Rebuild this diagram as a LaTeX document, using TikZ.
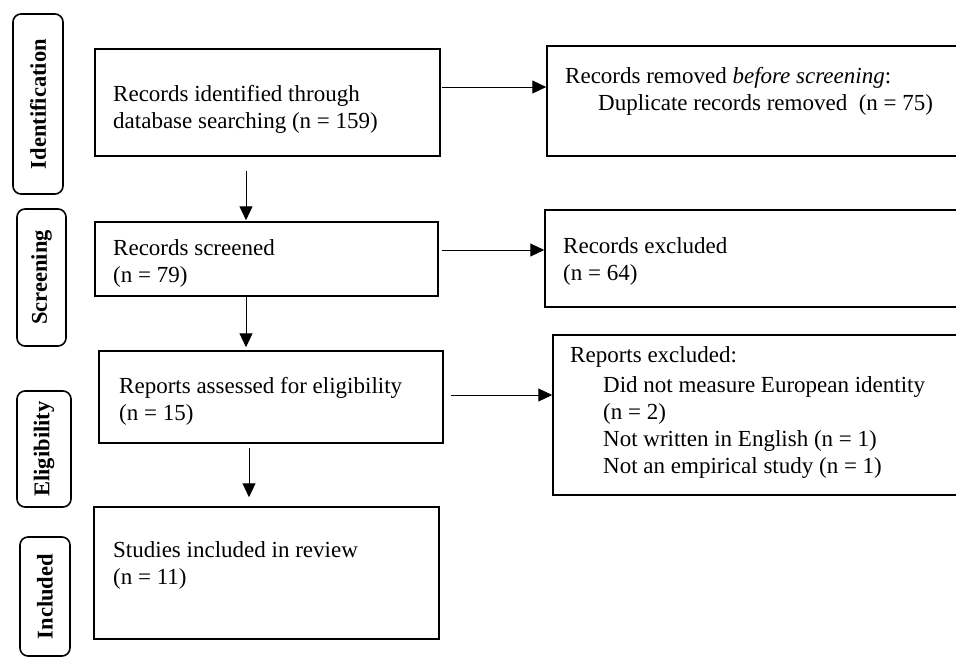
\documentclass[tikz,border=0pt]{standalone}
\usepackage{fontspec}
\setmainfont{Liberation Serif}
\usetikzlibrary{arrows.meta}
\newcommand\mystrut{\rule{0pt}{18pt}}
\begin{document}
\begin{tikzpicture}[x=1pt,y=-1pt,
  phase/.style={draw, line width=1.6pt, rounded corners=8pt, rotate=90, inner sep=0pt,
    font=\bfseries\fontsize{22.5}{26}\selectfont},
  box/.style={draw, line width=1.5pt, inner sep=0pt},
  txt/.style={inner sep=0pt, anchor=north west, align=left, font=\fontsize{23}{27}\selectfont},
  arr/.style={-{Triangle[length=14pt,width=13pt]}, line width=1pt}]
\clip (0,0) rectangle (956,657);
\fill[white] (0,0) rectangle (956,657);

% phase labels
\node[phase, minimum width=180pt, minimum height=50pt] (pid) at (38,104) {Identification};
\node[phase, minimum width=137pt, minimum height=49pt] (psc) at (41.5,277.5) {Screening};
\node[phase, minimum width=116pt, minimum height=54pt] (pel) at (44,449) {Eligibility};
\node[phase, minimum width=119pt, minimum height=50pt] (pin) at (45,596.5) {Included};

% boxes
\node[box, minimum width=345pt, minimum height=107pt] (b1) at (267.5,102.5) {};
\node[box, minimum width=413pt, minimum height=110pt] (rem) at (753.5,101) {};
\node[box, minimum width=343pt, minimum height=74pt] (b2) at (266.5,259) {};
\node[box, minimum width=415pt, minimum height=97pt] (exc) at (752.5,258.5) {};
\node[box, minimum width=344pt, minimum height=92pt] (b3) at (271,397) {};
\node[box, minimum width=407pt, minimum height=160pt] (rep) at (756.5,415) {};
\node[box, minimum width=345pt, minimum height=132pt] (b4) at (266.5,573) {};

% texts
\node[txt] (t1) at (113,83) {\mystrut Records identified through\\database searching (n = 159)};
\node[txt] (trem) at (565,65) {\mystrut Records removed \textit{before screening}:\\\hspace*{33pt}Duplicate records removed\ \ (n = 75)};
\node[txt] (t2) at (113,237) {\mystrut Records screened\\(n = 79)};
\node[txt] (texc) at (563,235) {\mystrut Records excluded\\(n = 64)};
\node[txt] (t3) at (119,375) {\mystrut Reports assessed for eligibility\\(n = 15)};
\node[txt] (trep) at (570,344) {\mystrut Reports excluded:\\[3pt]\hspace*{33pt}Did not measure European identity\\\hspace*{33pt}(n = 2)\\\hspace*{33pt}Not written in English (n = 1)\\\hspace*{33pt}Not an empirical study (n = 1)};
\node[txt] (t4) at (113,539) {\mystrut Studies included in review\\(n = 11)};

% connectors
\coordinate (vx1) at (246,0);
\coordinate (vx2) at (249,0);
\draw[arr, shorten <=1pt] ([yshift=15.5pt]b1.east) -- ([yshift=15.5pt]b1.east -| rem.west);
\draw[arr, shorten <=14pt, shorten >=1pt] (b1.south -| vx1) -- (b2.north -| vx1);
\draw[arr, shorten <=3pt] ([yshift=9pt]b2.east) -- ([yshift=9pt]b2.east -| exc.west);
\draw[arr, shorten >=3pt] (b2.south -| vx1) -- (b3.north -| vx1);
\draw[arr, shorten <=7pt] ([yshift=2pt]b3.east) -- ([yshift=2pt]b3.east -| rep.west);
\draw[arr, shorten <=4pt, shorten >=9pt] (b3.south -| vx2) -- (b4.north -| vx2);
\end{tikzpicture}
\end{document}
